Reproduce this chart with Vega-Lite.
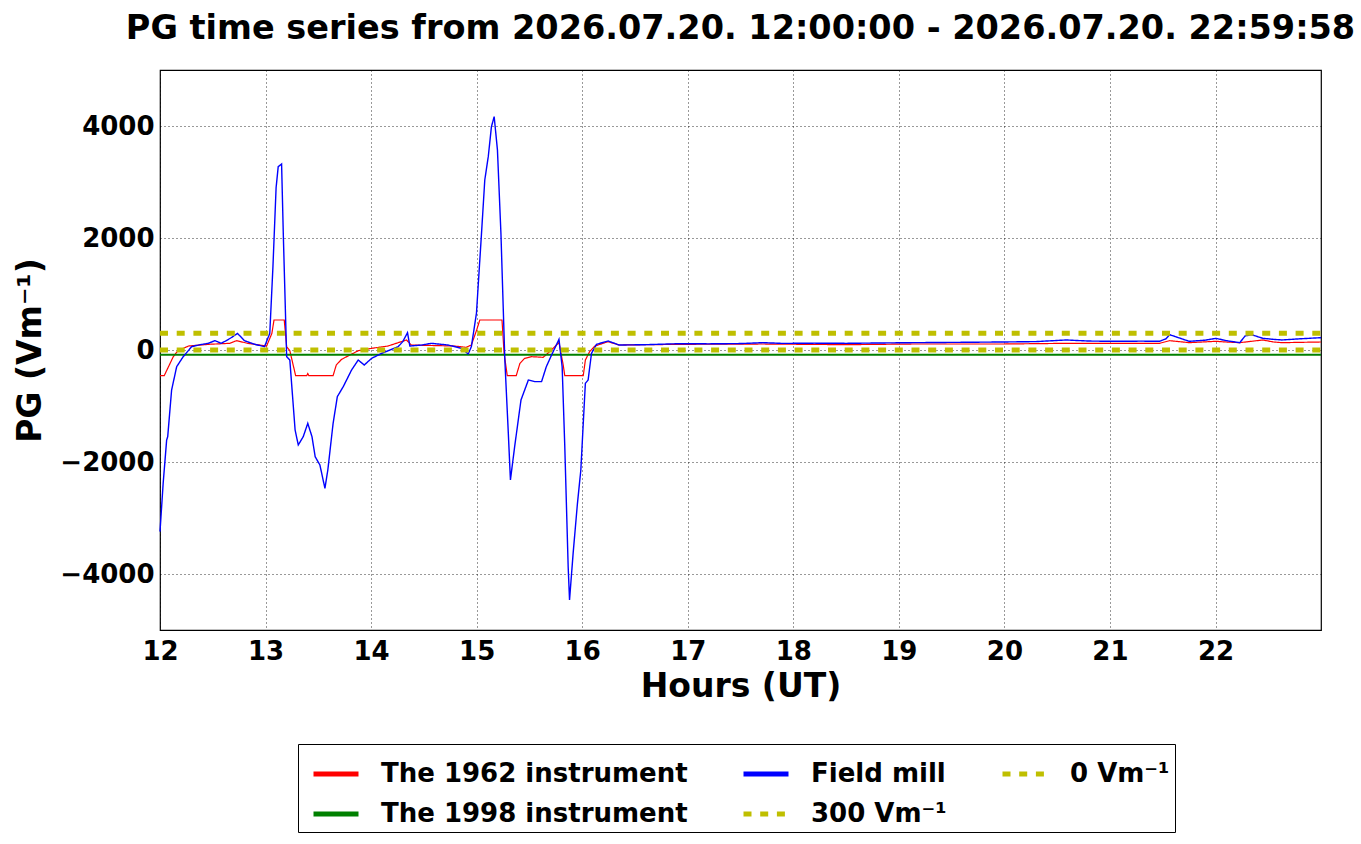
{
  "$schema": "https://vega.github.io/schema/vega-lite/v6.json",
  "autosize": {"type": "none"},
  "padding": {"left": 160, "top": 70, "right": 40, "bottom": 214},
  "width": 1161,
  "height": 560,
  "background": "white",
  "title": {
    "text": "PG time series from 2026.07.20. 12:00:00 - 2026.07.20. 22:59:58",
    "font": "DejaVu Sans",
    "fontSize": 33.5,
    "fontWeight": "bold",
    "color": "black",
    "anchor": "middle",
    "offset": 24
  },
  "data": {
    "values": [
      {"s": "Field mill", "t": 12.0, "v": -3244},
      {"s": "Field mill", "t": 12.03, "v": -2380},
      {"s": "Field mill", "t": 12.063, "v": -1607},
      {"s": "Field mill", "t": 12.073, "v": -1548},
      {"s": "Field mill", "t": 12.11, "v": -714},
      {"s": "Field mill", "t": 12.158, "v": -298},
      {"s": "Field mill", "t": 12.22, "v": -119},
      {"s": "Field mill", "t": 12.3, "v": 60},
      {"s": "Field mill", "t": 12.38, "v": 95},
      {"s": "Field mill", "t": 12.457, "v": 119},
      {"s": "Field mill", "t": 12.52, "v": 167},
      {"s": "Field mill", "t": 12.58, "v": 119},
      {"s": "Field mill", "t": 12.63, "v": 170},
      {"s": "Field mill", "t": 12.68, "v": 226},
      {"s": "Field mill", "t": 12.734, "v": 297},
      {"s": "Field mill", "t": 12.8, "v": 167},
      {"s": "Field mill", "t": 12.9, "v": 100},
      {"s": "Field mill", "t": 12.99, "v": 60},
      {"s": "Field mill", "t": 13.04, "v": 297},
      {"s": "Field mill", "t": 13.07, "v": 1488},
      {"s": "Field mill", "t": 13.1, "v": 2900},
      {"s": "Field mill", "t": 13.12, "v": 3274},
      {"s": "Field mill", "t": 13.152, "v": 3321},
      {"s": "Field mill", "t": 13.168, "v": 2083},
      {"s": "Field mill", "t": 13.2, "v": -119},
      {"s": "Field mill", "t": 13.23, "v": -179},
      {"s": "Field mill", "t": 13.28, "v": -1429},
      {"s": "Field mill", "t": 13.31, "v": -1696},
      {"s": "Field mill", "t": 13.357, "v": -1548},
      {"s": "Field mill", "t": 13.4, "v": -1310},
      {"s": "Field mill", "t": 13.44, "v": -1548},
      {"s": "Field mill", "t": 13.47, "v": -1905},
      {"s": "Field mill", "t": 13.515, "v": -2054},
      {"s": "Field mill", "t": 13.5625, "v": -2470},
      {"s": "Field mill", "t": 13.59, "v": -2143},
      {"s": "Field mill", "t": 13.64, "v": -1310},
      {"s": "Field mill", "t": 13.68, "v": -833},
      {"s": "Field mill", "t": 13.736, "v": -655},
      {"s": "Field mill", "t": 13.815, "v": -357},
      {"s": "Field mill", "t": 13.878, "v": -179},
      {"s": "Field mill", "t": 13.935, "v": -268},
      {"s": "Field mill", "t": 14.005, "v": -149},
      {"s": "Field mill", "t": 14.1, "v": -60},
      {"s": "Field mill", "t": 14.257, "v": 60},
      {"s": "Field mill", "t": 14.3, "v": 149},
      {"s": "Field mill", "t": 14.345, "v": 310},
      {"s": "Field mill", "t": 14.367, "v": 71},
      {"s": "Field mill", "t": 14.48, "v": 89},
      {"s": "Field mill", "t": 14.57, "v": 119},
      {"s": "Field mill", "t": 14.73, "v": 89},
      {"s": "Field mill", "t": 14.857, "v": 30},
      {"s": "Field mill", "t": 14.92, "v": -71},
      {"s": "Field mill", "t": 14.95, "v": 60},
      {"s": "Field mill", "t": 14.998, "v": 655},
      {"s": "Field mill", "t": 15.046, "v": 2083},
      {"s": "Field mill", "t": 15.077, "v": 3036},
      {"s": "Field mill", "t": 15.11, "v": 3452},
      {"s": "Field mill", "t": 15.14, "v": 3988},
      {"s": "Field mill", "t": 15.166, "v": 4167},
      {"s": "Field mill", "t": 15.197, "v": 3571},
      {"s": "Field mill", "t": 15.23, "v": 2083},
      {"s": "Field mill", "t": 15.267, "v": -179},
      {"s": "Field mill", "t": 15.3, "v": -1488},
      {"s": "Field mill", "t": 15.32, "v": -2321},
      {"s": "Field mill", "t": 15.36, "v": -1726},
      {"s": "Field mill", "t": 15.42, "v": -893},
      {"s": "Field mill", "t": 15.49, "v": -536},
      {"s": "Field mill", "t": 15.55, "v": -565},
      {"s": "Field mill", "t": 15.615, "v": -565},
      {"s": "Field mill", "t": 15.66, "v": -298},
      {"s": "Field mill", "t": 15.71, "v": -89},
      {"s": "Field mill", "t": 15.78, "v": 190},
      {"s": "Field mill", "t": 15.81, "v": -298},
      {"s": "Field mill", "t": 15.835, "v": -1726},
      {"s": "Field mill", "t": 15.867, "v": -3869},
      {"s": "Field mill", "t": 15.88, "v": -4464},
      {"s": "Field mill", "t": 15.914, "v": -3631},
      {"s": "Field mill", "t": 15.955, "v": -2738},
      {"s": "Field mill", "t": 15.987, "v": -2143},
      {"s": "Field mill", "t": 16.01, "v": -1310},
      {"s": "Field mill", "t": 16.03, "v": -595},
      {"s": "Field mill", "t": 16.056, "v": -536},
      {"s": "Field mill", "t": 16.088, "v": -60},
      {"s": "Field mill", "t": 16.135, "v": 101},
      {"s": "Field mill", "t": 16.245, "v": 161},
      {"s": "Field mill", "t": 16.35, "v": 89},
      {"s": "Field mill", "t": 16.6, "v": 95},
      {"s": "Field mill", "t": 16.92, "v": 113},
      {"s": "Field mill", "t": 17.2, "v": 110},
      {"s": "Field mill", "t": 17.5, "v": 115},
      {"s": "Field mill", "t": 17.71, "v": 131},
      {"s": "Field mill", "t": 17.9, "v": 118},
      {"s": "Field mill", "t": 18.2, "v": 122},
      {"s": "Field mill", "t": 18.5, "v": 119},
      {"s": "Field mill", "t": 18.8, "v": 125},
      {"s": "Field mill", "t": 19.13, "v": 131},
      {"s": "Field mill", "t": 19.58, "v": 137},
      {"s": "Field mill", "t": 19.98, "v": 143},
      {"s": "Field mill", "t": 20.3, "v": 150},
      {"s": "Field mill", "t": 20.585, "v": 179},
      {"s": "Field mill", "t": 20.8, "v": 160},
      {"s": "Field mill", "t": 21.0, "v": 155},
      {"s": "Field mill", "t": 21.3, "v": 158},
      {"s": "Field mill", "t": 21.47, "v": 155},
      {"s": "Field mill", "t": 21.53, "v": 200},
      {"s": "Field mill", "t": 21.565, "v": 274},
      {"s": "Field mill", "t": 21.64, "v": 226},
      {"s": "Field mill", "t": 21.75, "v": 155},
      {"s": "Field mill", "t": 21.9, "v": 175},
      {"s": "Field mill", "t": 22.005, "v": 208},
      {"s": "Field mill", "t": 22.1, "v": 167},
      {"s": "Field mill", "t": 22.23, "v": 131},
      {"s": "Field mill", "t": 22.28, "v": 250},
      {"s": "Field mill", "t": 22.34, "v": 274},
      {"s": "Field mill", "t": 22.45, "v": 208},
      {"s": "Field mill", "t": 22.55, "v": 190},
      {"s": "Field mill", "t": 22.63, "v": 179},
      {"s": "Field mill", "t": 22.8, "v": 200},
      {"s": "Field mill", "t": 22.999, "v": 220},

      {"s": "The 1962 instrument", "t": 12.0, "v": -458},
      {"s": "The 1962 instrument", "t": 12.04, "v": -458},
      {"s": "The 1962 instrument", "t": 12.126, "v": -119},
      {"s": "The 1962 instrument", "t": 12.17, "v": -12},
      {"s": "The 1962 instrument", "t": 12.27, "v": 71},
      {"s": "The 1962 instrument", "t": 12.457, "v": 101},
      {"s": "The 1962 instrument", "t": 12.66, "v": 119},
      {"s": "The 1962 instrument", "t": 12.726, "v": 167},
      {"s": "The 1962 instrument", "t": 12.83, "v": 119},
      {"s": "The 1962 instrument", "t": 13.01, "v": 71},
      {"s": "The 1962 instrument", "t": 13.06, "v": 297},
      {"s": "The 1962 instrument", "t": 13.08, "v": 536},
      {"s": "The 1962 instrument", "t": 13.177, "v": 536},
      {"s": "The 1962 instrument", "t": 13.2, "v": 60},
      {"s": "The 1962 instrument", "t": 13.23, "v": -12},
      {"s": "The 1962 instrument", "t": 13.285, "v": -458},
      {"s": "The 1962 instrument", "t": 13.39, "v": -458},
      {"s": "The 1962 instrument", "t": 13.4, "v": -420},
      {"s": "The 1962 instrument", "t": 13.41, "v": -458},
      {"s": "The 1962 instrument", "t": 13.64, "v": -458},
      {"s": "The 1962 instrument", "t": 13.67, "v": -268},
      {"s": "The 1962 instrument", "t": 13.72, "v": -167},
      {"s": "The 1962 instrument", "t": 13.8, "v": -89},
      {"s": "The 1962 instrument", "t": 13.88, "v": -12},
      {"s": "The 1962 instrument", "t": 14.005, "v": 30},
      {"s": "The 1962 instrument", "t": 14.16, "v": 71},
      {"s": "The 1962 instrument", "t": 14.335, "v": 179},
      {"s": "The 1962 instrument", "t": 14.38, "v": 89},
      {"s": "The 1962 instrument", "t": 14.79, "v": 71},
      {"s": "The 1962 instrument", "t": 14.9, "v": 48},
      {"s": "The 1962 instrument", "t": 14.95, "v": 89},
      {"s": "The 1962 instrument", "t": 15.0, "v": 357},
      {"s": "The 1962 instrument", "t": 15.03, "v": 536},
      {"s": "The 1962 instrument", "t": 15.24, "v": 536},
      {"s": "The 1962 instrument", "t": 15.26, "v": -60},
      {"s": "The 1962 instrument", "t": 15.29, "v": -458},
      {"s": "The 1962 instrument", "t": 15.375, "v": -458},
      {"s": "The 1962 instrument", "t": 15.41, "v": -238},
      {"s": "The 1962 instrument", "t": 15.455, "v": -149},
      {"s": "The 1962 instrument", "t": 15.52, "v": -119},
      {"s": "The 1962 instrument", "t": 15.63, "v": -131},
      {"s": "The 1962 instrument", "t": 15.68, "v": -48},
      {"s": "The 1962 instrument", "t": 15.78, "v": 131},
      {"s": "The 1962 instrument", "t": 15.82, "v": -268},
      {"s": "The 1962 instrument", "t": 15.835, "v": -458},
      {"s": "The 1962 instrument", "t": 16.01, "v": -458},
      {"s": "The 1962 instrument", "t": 16.03, "v": -179},
      {"s": "The 1962 instrument", "t": 16.07, "v": -30},
      {"s": "The 1962 instrument", "t": 16.12, "v": 71},
      {"s": "The 1962 instrument", "t": 16.245, "v": 149},
      {"s": "The 1962 instrument", "t": 16.35, "v": 89},
      {"s": "The 1962 instrument", "t": 16.92, "v": 101},
      {"s": "The 1962 instrument", "t": 17.71, "v": 107},
      {"s": "The 1962 instrument", "t": 18.5, "v": 95},
      {"s": "The 1962 instrument", "t": 19.13, "v": 107},
      {"s": "The 1962 instrument", "t": 19.58, "v": 107},
      {"s": "The 1962 instrument", "t": 19.98, "v": 107},
      {"s": "The 1962 instrument", "t": 20.585, "v": 119},
      {"s": "The 1962 instrument", "t": 21.0, "v": 119},
      {"s": "The 1962 instrument", "t": 21.47, "v": 119},
      {"s": "The 1962 instrument", "t": 21.565, "v": 167},
      {"s": "The 1962 instrument", "t": 21.75, "v": 131},
      {"s": "The 1962 instrument", "t": 22.005, "v": 155},
      {"s": "The 1962 instrument", "t": 22.1, "v": 143},
      {"s": "The 1962 instrument", "t": 22.23, "v": 131},
      {"s": "The 1962 instrument", "t": 22.45, "v": 179},
      {"s": "The 1962 instrument", "t": 22.55, "v": 143},
      {"s": "The 1962 instrument", "t": 22.63, "v": 131},
      {"s": "The 1962 instrument", "t": 22.999, "v": 143},

      {"s": "The 1998 instrument", "t": 12.0, "v": -85},
      {"s": "The 1998 instrument", "t": 22.999, "v": -85},
      {"s": "300 Vm⁻¹", "t": 12.0, "v": 300},
      {"s": "300 Vm⁻¹", "t": 22.999, "v": 300},
      {"s": "0 Vm⁻¹", "t": 12.0, "v": 0},
      {"s": "0 Vm⁻¹", "t": 22.999, "v": 0}
    ]
  },
  "encoding": {
    "x": {
      "field": "t",
      "type": "quantitative",
      "title": "Hours (UT)",
      "scale": {"domain": [12, 22.9994], "nice": false, "zero": false},
      "axis": {"values": [12, 13, 14, 15, 16, 17, 18, 19, 20, 21, 22], "format": "d", "labelPadding": 8, "titlePadding": 6, "labelFlush": false}
    },
    "y": {
      "field": "v",
      "type": "quantitative",
      "title": "PG (Vm⁻¹)",
      "scale": {"domain": [-5000, 5000], "nice": false},
      "axis": {"values": [-4000, -2000, 0, 2000, 4000], "format": "d", "labelPadding": 6, "titlePadding": 12, "labelFlush": false}
    },
    "color": {
      "field": "s",
      "type": "nominal",
      "scale": {
        "domain": ["The 1962 instrument", "The 1998 instrument", "Field mill", "300 Vm⁻¹", "0 Vm⁻¹"],
        "range": ["#ff0000", "#008000", "#0000ff", "#bfbf00", "#bfbf00"]
      },
      "legend": {
        "orient": "none",
        "legendX": 138,
        "legendY": 674,
        "columns": 3,
        "title": null,
        "encode": {"symbols": {"update": {"strokeWidth": {"value": 5}}}}
      }
    },
    "strokeDash": {
      "field": "s",
      "type": "nominal",
      "scale": {
        "domain": ["The 1962 instrument", "The 1998 instrument", "Field mill", "300 Vm⁻¹", "0 Vm⁻¹"],
        "range": [[1, 0], [1, 0], [1, 0], [8, 8.7], [8, 8.7]]
      },
      "legend": {
        "orient": "none",
        "legendX": 138,
        "legendY": 674,
        "columns": 3,
        "title": null,
        "encode": {"symbols": {"update": {"strokeWidth": {"value": 5}}}}
      }
    }
  },
  "layer": [
    {"transform": [{"filter": "datum.s === 'The 1962 instrument'"}], "mark": {"type": "line", "strokeWidth": 1.2}},
    {"transform": [{"filter": "datum.s === 'The 1998 instrument'"}], "mark": {"type": "line", "strokeWidth": 2}},
    {"transform": [{"filter": "datum.s === 'Field mill'"}], "mark": {"type": "line", "strokeWidth": 1.4}},
    {"transform": [{"filter": "datum.s === '300 Vm⁻¹'"}], "mark": {"type": "line", "strokeWidth": 5}},
    {"transform": [{"filter": "datum.s === '0 Vm⁻¹'"}], "mark": {"type": "line", "strokeWidth": 5}}
  ],
  "config": {
    "view": {"stroke": "black", "strokeWidth": 1.2},
    "axis": {
      "labelFont": "DejaVu Sans",
      "labelFontSize": 26,
      "labelFontWeight": "bold",
      "labelColor": "black",
      "titleFont": "DejaVu Sans",
      "titleFontSize": 33,
      "titleFontWeight": "bold",
      "titleColor": "black",
      "grid": true,
      "gridColor": "black",
      "gridOpacity": 0.8,
      "gridDash": [1, 3],
      "gridWidth": 1,
      "domain": false,
      "ticks": false,
      "tickSize": 0
    },
    "legend": {
      "labelFont": "DejaVu Sans",
      "labelFontSize": 26,
      "labelFontWeight": "bold",
      "labelColor": "black",
      "labelLimit": 0,
      "labelOffset": 20,
      "symbolType": "stroke",
      "symbolSize": 2025,
      "symbolStrokeWidth": 5,
      "symbolOffset": 8,
      "strokeColor": "black",
      "fillColor": "white",
      "padding": 5,
      "columnPadding": 45,
      "rowPadding": 2
    }
  }
}
